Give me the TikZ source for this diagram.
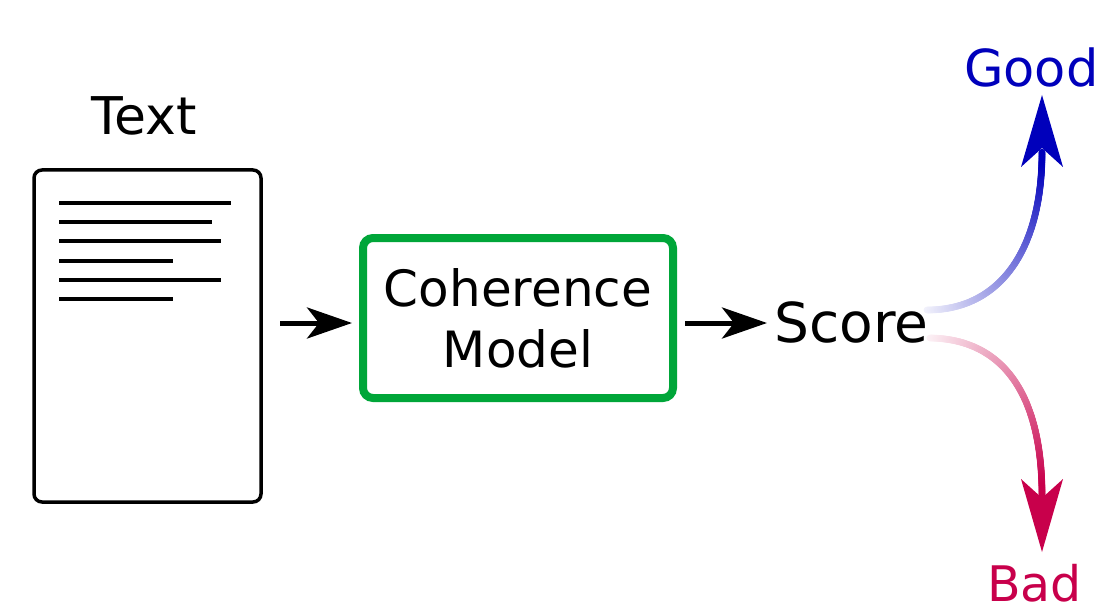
\documentclass[tikz,border=0pt]{standalone}
\usepackage{fontspec}
\setmainfont{DejaVu Sans}
\usetikzlibrary{decorations.markings,arrows.meta,calc}
\definecolor{goodc}{RGB}{0,0,187}
\definecolor{badc}{RGB}{200,0,75}
\definecolor{modelc}{RGB}{0,166,57}
\tikzset{
  lbl/.style={inner sep=0pt, anchor=base west},
  docline/.style={line width=4pt},
  arr/.style={line width=5pt, -{Stealth[length=45pt,width=31pt,inset=12pt]}},
  grad/.style 2 args={postaction={decorate}, decoration={markings,
    mark=between positions 0 and 1 step 0.7pt with {%
      \pgfmathsetmacro\gradfr{\pgfkeysvalueof{/pgf/decoration/mark info/distance from start}/\pgfdecoratedpathlength}%
      \pgfmathsetmacro\gradpc{min(100,#2+(100-#2)*\gradfr/0.95)}%
      \fill[#1!\gradpc!white] (0,0) circle (3.4pt);}}}
}
\begin{document}
\begin{tikzpicture}[x=1pt,y=-1pt]
\useasboundingbox (0,0) rectangle (1097,604);
% document
\node[draw, line width=3.5pt, rounded corners=8pt, minimum width=227pt, minimum height=332pt, inner sep=0pt] (doc) at (147.5,336) {};
\foreach \yy/\xx in {202.7/231,222/212,241.3/221,260.7/173,279.5/221,298.5/173}
  \draw[docline] (59,\yy) -- (\xx,\yy);
\node[font=\fontsize{52}{60}\selectfont, inner sep=0pt, anchor=base] (title) at (144,135) {Text};
% model
\node[draw=modelc, line width=8pt, rounded corners=10pt, minimum width=310pt, minimum height=160pt, inner sep=0pt, align=center, font=\fontsize{50}{61}\selectfont] (model) at (518,318) {Coherence\\Model};
% score
\node[lbl, font=\fontsize{55}{60}\selectfont] (score) at (774,342) {Score};
\node[lbl, text=goodc, font=\fontsize{51}{60}\selectfont] (good) at (964,87) {Good};
\node[lbl, text=badc, font=\fontsize{49}{60}\selectfont] (bad) at (987,601) {Bad};
% straight arrows
\draw[arr, shorten <=17.5pt, shorten >=7pt] (doc.east |- 0,323) -- (model.west |- 0,323);
\draw[arr, shorten <=8pt, shorten >=7pt] (model.east |- 0,323) -- (score.west |- 0,323);
% curved gradient arrows
\coordinate (gs) at (927,310);
\coordinate (ge) at (1042,152);
\coordinate (gtip) at (1042,95);
\coordinate (bs) at (930,338);
\coordinate (be) at (1042,496);
\coordinate (btip) at (1042,552);
\path[grad={goodc}{5}] (gs) .. controls (1000,310) and (1042,250) .. (ge);
\path[grad={badc}{5}] (bs) .. controls (1000,339) and (1042,390) .. (be);
\fill[goodc] (gtip) -- ++(21,72) -- ++(-21,-19) -- ++(-21,19) -- cycle;
\fill[badc] (btip) -- ++(21,-73) -- ++(-21,19) -- ++(-21,-19) -- cycle;
\end{tikzpicture}
\end{document}
